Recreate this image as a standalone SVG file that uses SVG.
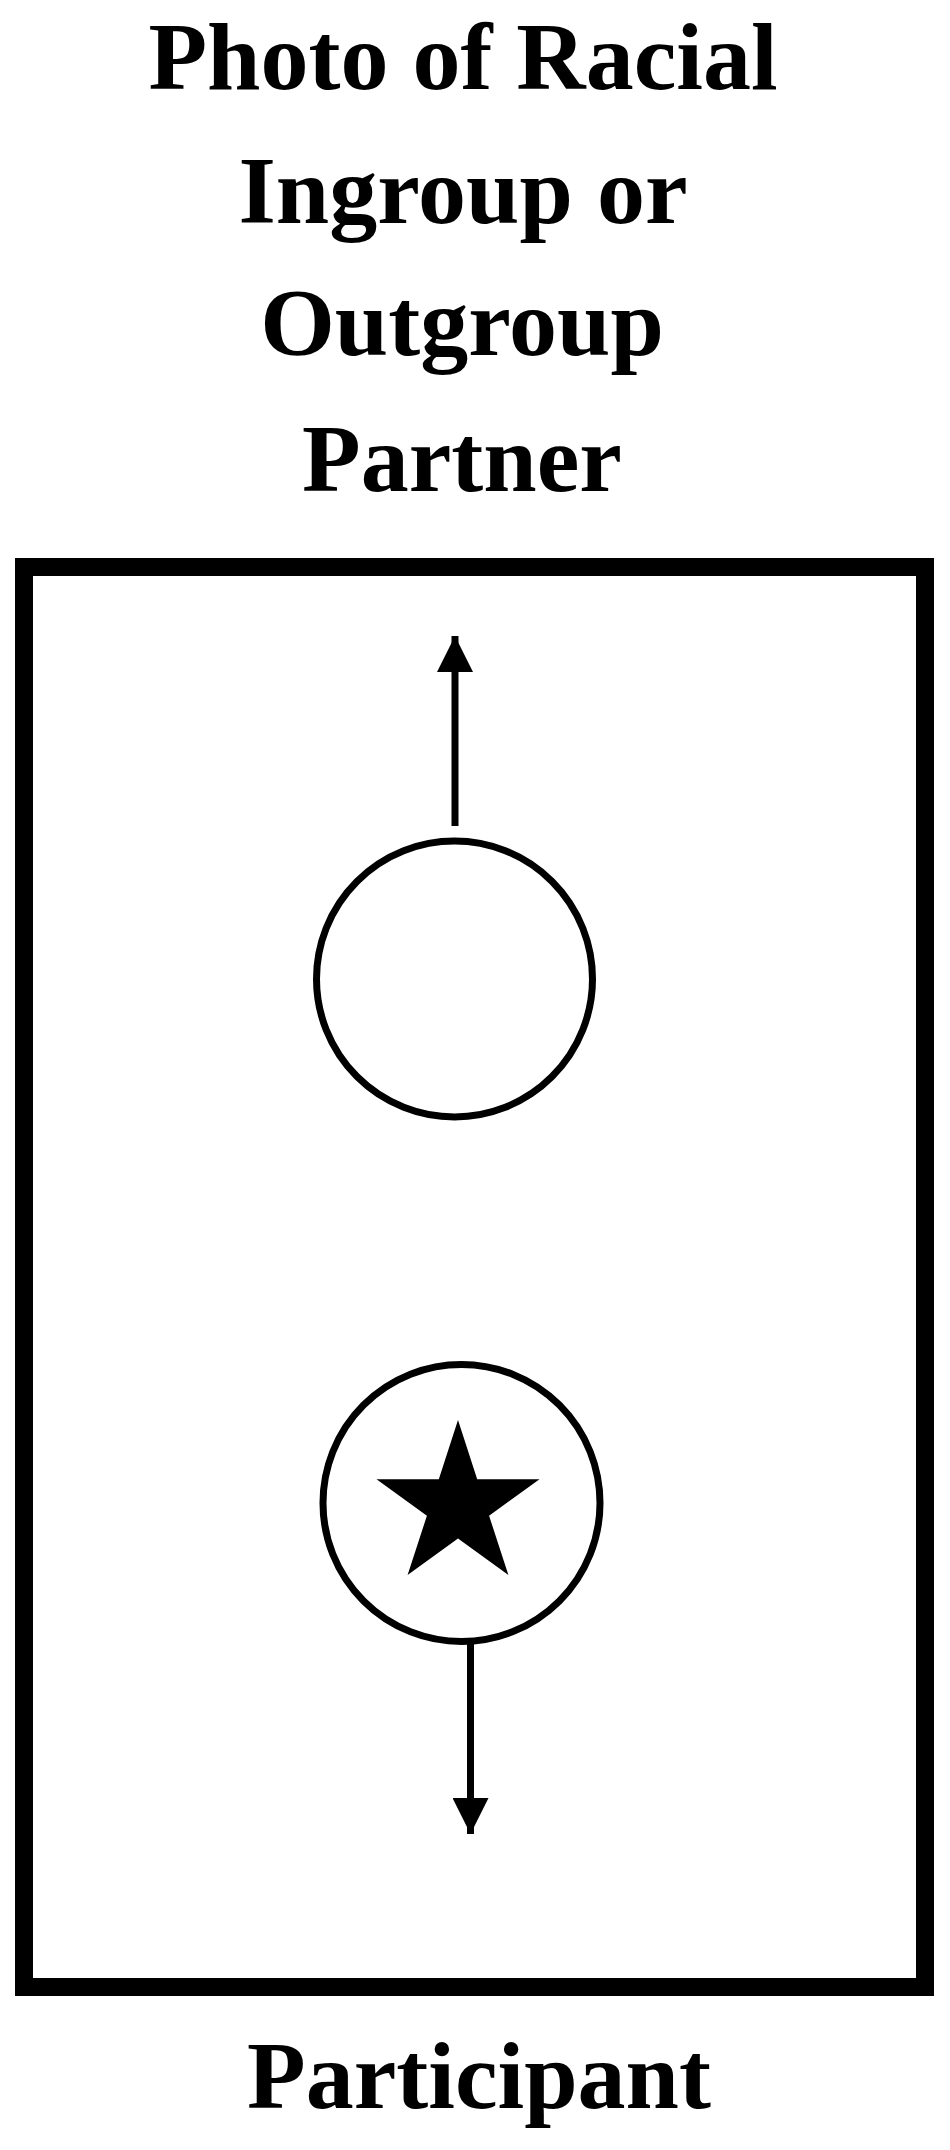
<svg xmlns="http://www.w3.org/2000/svg" width="950" height="2150" viewBox="0 0 950 2150">
<style>
.lbl{font-family:"Liberation Serif","Times New Roman",serif;font-weight:bold;font-size:96px;fill:#000;text-anchor:middle}
.ring{fill:#fff;stroke:#000;stroke-width:7}
.conn{stroke:#000;stroke-width:7;fill:none}
</style>
<defs>
<marker id="ah" markerUnits="userSpaceOnUse" markerWidth="36" markerHeight="36" viewBox="0 0 36 36" refX="36" refY="18" orient="auto">
<path d="M0,0 L36,18 L0,36 Z" fill="#000"/>
</marker>
</defs>
<rect width="950" height="2150" fill="#fff"/>
<g id="partner-label">
<text class="lbl" x="463" y="89">Photo of Racial</text>
<text class="lbl" x="463" y="223">Ingroup or</text>
<text class="lbl" x="462" y="355">Outgroup</text>
<text class="lbl" x="462" y="491">Partner</text>
</g>
<g id="arena">
<rect x="24" y="567" width="901" height="1420" fill="none" stroke="#000" stroke-width="18"/>
</g>
<g id="partner">
<circle class="ring" cx="454.5" cy="979" r="138"/>
</g>
<g id="participant">
<circle class="ring" cx="461.5" cy="1503" r="138.5"/>
<path d="M458,1420 L477.2,1479.2 L539.5,1479.2 L489.1,1515.8 L508.4,1575 L458,1538.4 L407.6,1575 L426.9,1515.8 L376.5,1479.2 L438.8,1479.2 Z" fill="#000"/>
</g>
<g id="connectors">
<line class="conn" x1="455" y1="826" x2="455" y2="636" marker-end="url(#ah)"/>
<line class="conn" x1="470.5" y1="1644" x2="470.5" y2="1834" marker-end="url(#ah)"/>
</g>
<g id="participant-label">
<text class="lbl" x="479" y="2108">Participant</text>
</g>
</svg>
